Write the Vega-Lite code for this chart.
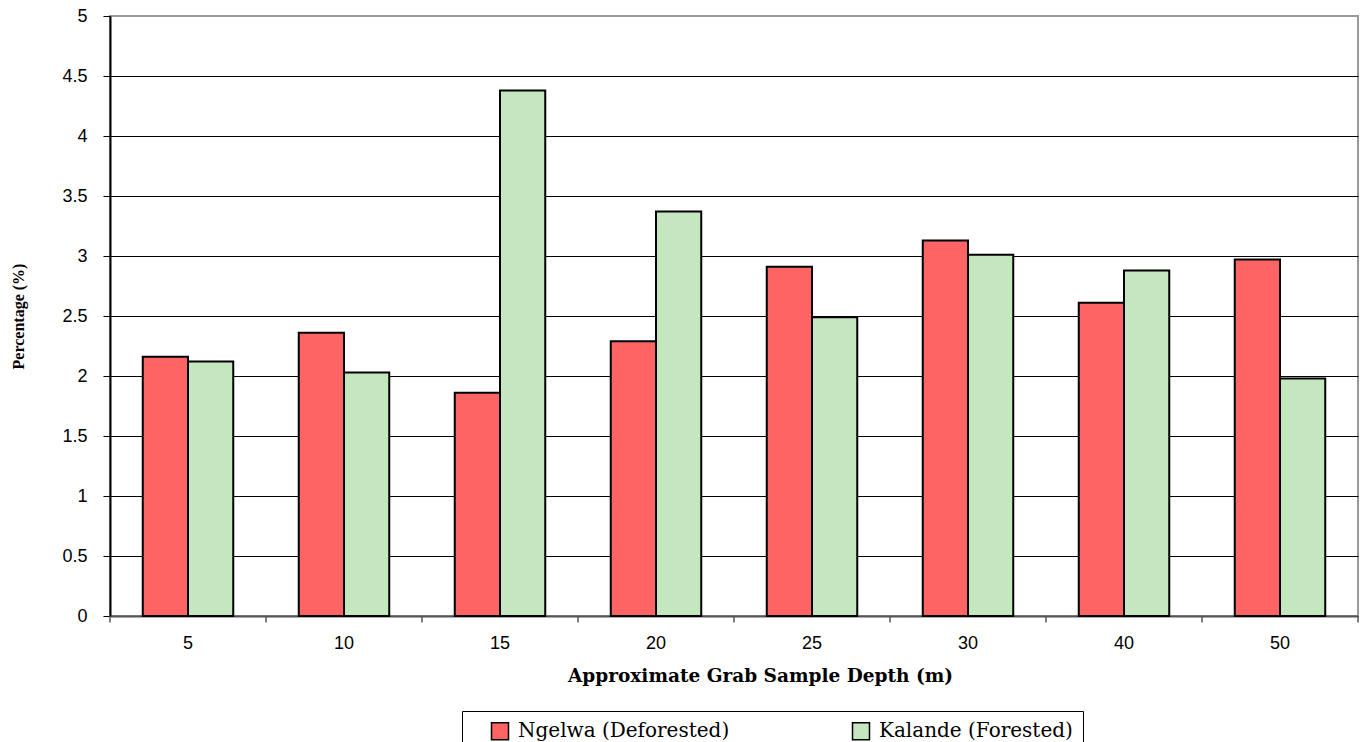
{
  "$schema": "https://vega.github.io/schema/vega-lite/v6.json",
  "width": 1248,
  "height": 600,
  "autosize": {"type": "none"},
  "padding": {"left": 110, "top": 16, "right": 2, "bottom": 126},
  "background": "white",
  "config": {
    "view": {"stroke": "#999999", "strokeWidth": 2}
  },
  "datasets": {
    "bars": [
      {"depth": "5", "site": "Ngelwa (Deforested)", "value": 2.16},
      {"depth": "5", "site": "Kalande (Forested)", "value": 2.12},
      {"depth": "10", "site": "Ngelwa (Deforested)", "value": 2.36},
      {"depth": "10", "site": "Kalande (Forested)", "value": 2.03},
      {"depth": "15", "site": "Ngelwa (Deforested)", "value": 1.86},
      {"depth": "15", "site": "Kalande (Forested)", "value": 4.38},
      {"depth": "20", "site": "Ngelwa (Deforested)", "value": 2.29},
      {"depth": "20", "site": "Kalande (Forested)", "value": 3.37},
      {"depth": "25", "site": "Ngelwa (Deforested)", "value": 2.91},
      {"depth": "25", "site": "Kalande (Forested)", "value": 2.49},
      {"depth": "30", "site": "Ngelwa (Deforested)", "value": 3.13},
      {"depth": "30", "site": "Kalande (Forested)", "value": 3.01},
      {"depth": "40", "site": "Ngelwa (Deforested)", "value": 2.61},
      {"depth": "40", "site": "Kalande (Forested)", "value": 2.88},
      {"depth": "50", "site": "Ngelwa (Deforested)", "value": 2.97},
      {"depth": "50", "site": "Kalande (Forested)", "value": 1.98}
    ],
    "cats": [
      {"depth": "5"}, {"depth": "10"}, {"depth": "15"}, {"depth": "20"},
      {"depth": "25"}, {"depth": "30"}, {"depth": "40"}, {"depth": "50"}
    ],
    "last": [{"depth": "50"}]
  },
  "layer": [
    {
      "data": {"name": "bars"},
      "mark": {"type": "bar", "stroke": "black", "strokeWidth": 2},
      "encoding": {
        "x": {
          "field": "depth",
          "type": "nominal",
          "sort": ["5", "10", "15", "20", "25", "30", "40", "50"],
          "scale": {"paddingInner": 0, "paddingOuter": 0},
          "title": "Approximate Grab Sample Depth (m)",
          "axis": {
            "labelAngle": 0,
            "ticks": false,
            "domainColor": "#555555",
            "domainWidth": 2,
            "labelFont": "Liberation Sans",
            "labelFontSize": 18,
            "labelColor": "black",
            "labelPadding": 27,
            "labelBaseline": "middle",
            "titleFont": "DejaVu Serif",
            "titleFontWeight": "bold",
            "titleFontSize": 18.5,
            "titleColor": "black",
            "titleX": 650,
            "titleY": 59,
            "titleBaseline": "middle"
          }
        },
        "xOffset": {
          "field": "site",
          "type": "nominal",
          "sort": ["Ngelwa (Deforested)", "Kalande (Forested)"],
          "scale": {"paddingInner": 0, "paddingOuter": 0.724}
        },
        "y": {
          "field": "value",
          "type": "quantitative",
          "title": "Percentage (%)",
          "scale": {"domain": [0, 5], "nice": false, "zero": true},
          "axis": {
            "values": [0, 0.5, 1, 1.5, 2, 2.5, 3, 3.5, 4, 4.5, 5],
            "format": "~g",
            "grid": true,
            "gridColor": {"condition": {"test": "datum.value == 5", "value": "#999999"}, "value": "black"},
            "gridOpacity": 1,
            "gridWidth": 1,
            "domainColor": "black",
            "domainWidth": 2,
            "tickColor": "black",
            "tickSize": 7,
            "labelPadding": 16,
            "labelFont": "Liberation Sans",
            "labelFontSize": 18,
            "labelColor": "black",
            "titleFont": "Liberation Serif",
            "titleFontWeight": "bold",
            "titleFontSize": 16,
            "titleColor": "black",
            "titleAngle": 270,
            "titleX": -92,
            "titleY": 300,
            "titleAlign": "center",
            "titleBaseline": "middle"
          }
        },
        "fill": {
          "field": "site",
          "type": "nominal",
          "sort": ["Ngelwa (Deforested)", "Kalande (Forested)"],
          "scale": {
            "domain": ["Ngelwa (Deforested)", "Kalande (Forested)"],
            "range": ["#ff6464", "#c5e7c0"]
          },
          "legend": {
            "title": null,
            "orient": "none",
            "legendX": 352,
            "legendY": 695,
            "direction": "horizontal",
            "columns": 2,
            "columnPadding": 103,
            "strokeColor": "black",
            "fillColor": "white",
            "padding": 10,
            "symbolOffset": 18,
            "symbolType": "square",
            "symbolSize": 289,
            "symbolStrokeColor": "black",
            "symbolStrokeWidth": 1.5,
            "symbolOpacity": 1,
            "labelFont": "DejaVu Serif",
            "labelFontSize": 20,
            "labelColor": "black",
            "labelLimit": 400,
            "labelOffset": 8
          }
        }
      }
    },
    {
      "data": {"name": "cats"},
      "mark": {"type": "rule", "color": "#555555", "strokeWidth": 1.5},
      "encoding": {
        "x": {"field": "depth", "type": "nominal", "sort": ["5", "10", "15", "20", "25", "30", "40", "50"], "bandPosition": 0},
        "y": {"datum": 0, "type": "quantitative"},
        "y2": {"datum": -0.055}
      }
    },
    {
      "data": {"name": "last"},
      "mark": {"type": "rule", "color": "#555555", "strokeWidth": 1.5},
      "encoding": {
        "x": {"field": "depth", "type": "nominal", "sort": ["5", "10", "15", "20", "25", "30", "40", "50"], "bandPosition": 1},
        "y": {"datum": 0, "type": "quantitative"},
        "y2": {"datum": -0.055}
      }
    }
  ]
}
